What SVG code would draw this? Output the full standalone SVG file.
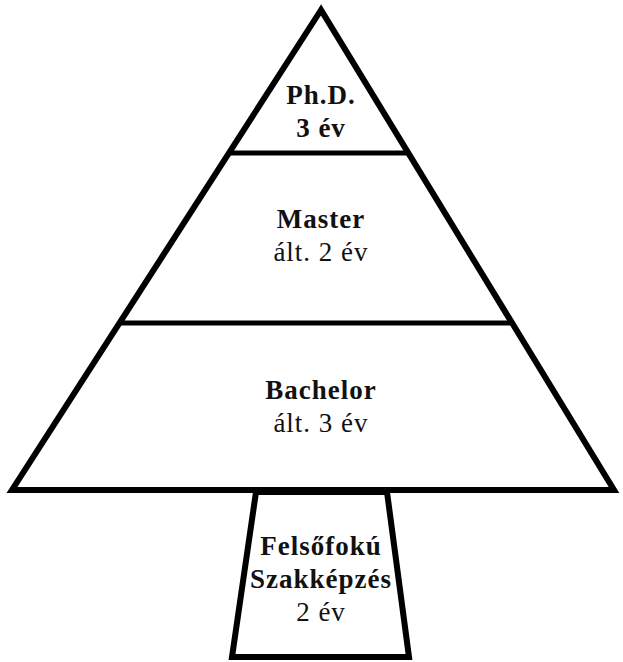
<svg xmlns="http://www.w3.org/2000/svg" width="623" height="662" viewBox="0 0 623 662">
<style>
.outer{fill:none;stroke:#000;stroke-width:6;stroke-linejoin:miter}
.div{stroke:#000;stroke-width:5}
.t{font-family:'Liberation Serif','DejaVu Serif',serif;font-size:27px;letter-spacing:1px;text-anchor:middle;fill:#111}
.b{font-weight:bold}
</style>
<rect width="623" height="662" fill="#fff"/>
<g id="pyramid">
<polygon class="outer" points="321,10 12,490 614,490"/>
</g>
<g id="connectors">
<line class="div" x1="229" y1="153" x2="409" y2="153"/>
<line class="div" x1="120" y1="323" x2="512" y2="323"/>
</g>
<g id="phd">
<text class="t b" x="321" y="104">Ph.D.</text>
<text class="t b" x="321" y="137">3 év</text>
</g>
<g id="master">
<text class="t b" x="321" y="228">Master</text>
<text class="t" x="321" y="261">ált. 2 év</text>
</g>
<g id="bachelor">
<text class="t b" x="321" y="399">Bachelor</text>
<text class="t" x="321" y="432">ált. 3 év</text>
</g>
<g id="szakkepzes">
<polygon class="outer" points="256,492 387,492 409,657 232,657"/>
<text class="t b" x="321" y="555">Felsőfokú</text>
<text class="t b" x="321" y="588">Szakképzés</text>
<text class="t" x="321" y="621">2 év</text>
</g>
</svg>
